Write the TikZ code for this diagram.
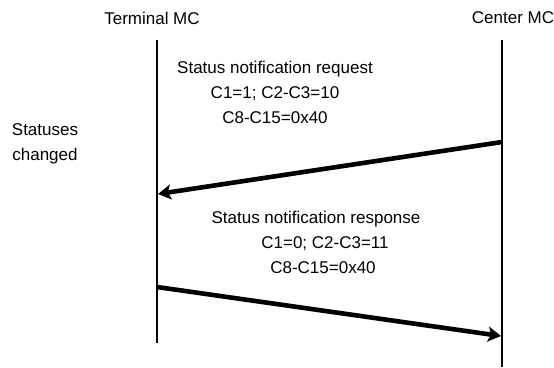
\documentclass[tikz,border=0pt]{standalone}
\usepackage{fontspec}
\setmainfont{Liberation Sans}
\usetikzlibrary{arrows.meta}

\begin{document}
\begin{tikzpicture}[x=1pt,y=-1pt,
  lbl/.style={font=\fontsize{17}{25}\selectfont,align=center,inner sep=0pt},
  life/.style={line width=1.3pt},
  msg/.style={-{Stealth[length=13pt,width=15pt,inset=3pt]},line width=4.6pt}]
\useasboundingbox (0,0) rectangle (554,367);
% entities
\node[lbl] (term) at (152,18) {Terminal MC};
\node[lbl] (cent) at (513,18) {Center MC};
\coordinate (termtop) at (157,40); \coordinate (termbot) at (157,343);
\coordinate (centtop) at (502,40); \coordinate (centbot) at (502,367);
\draw[life] (termtop)--(termbot); \draw[life] (centtop)--(centbot);
% messages
\coordinate (reqa) at (502,142); \coordinate (reqb) at (158,194);
\coordinate (resa) at (157,287); \coordinate (resb) at (501,336);
\draw[msg] (reqa)--(reqb);
\draw[msg] (resa)--(resb);
\node[lbl] (req) at (275,92)
 {Status notification request\\ C1=1; C2-C3=10\\ C8-C15=0x40};
\node[lbl] (res) at (316,242)
 {Status notification response\\ \hspace{18pt}C1=0; C2-C3=11\\ \hspace{14pt}C8-C15=0x40};
\node[lbl] (chg) at (45,144) {Statuses\\ changed};
\end{tikzpicture}
\end{document}
